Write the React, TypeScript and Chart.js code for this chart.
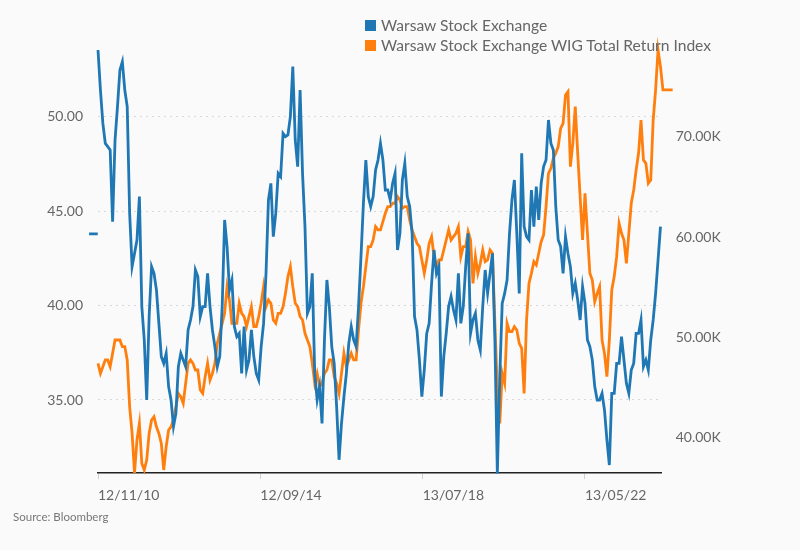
import { useEffect, useRef } from "react";
import { Chart, registerables } from "chart.js";

Chart.register(...registerables);

// one sample every 3 weeks, week 0 = 12/11/10
const STEP_WEEKS = 3;

const tickWeeks = [0, 200, 400, 600];
const tickLabels = ["12/11/10", "12/09/14", "13/07/18", "13/05/22"];

const leftTicks = [35, 40, 45, 50];
const rightTicks = [40000, 50000, 60000, 70000];

// short stray segment drawn before the first week
const blueLeadWeeks = [-11, -0.3];
const blueLeadValues = [43.8, 43.8];

// Warsaw Stock Exchange (PLN)
const blueValues = [
  53.55, 51.43, 49.66, 48.6, 48.43, 48.25, 44.45, 48.78, 50.55, 52.49,
  52.93, 51.43, 50.55, 44.89, 42.07, 42.77, 43.48, 45.78, 39.95, 38.18,
  35.0, 39.42, 42.07, 41.71, 40.83, 39.06, 37.3, 36.94, 37.47, 35.71,
  35.0, 33.59, 34.29, 36.77, 37.47, 37.12, 36.77, 38.71, 39.24, 39.95,
  41.89, 41.54, 39.42, 39.95, 39.95, 41.71, 39.95, 38.71, 37.83, 36.77,
  37.3, 39.95, 44.54, 43.13, 40.83, 41.36, 38.89, 38.36, 38.53, 36.41,
  38.89, 36.59, 37.12, 38.71, 37.3, 36.41, 36.06, 37.83, 39.06, 41.71,
  45.6, 46.48, 43.66, 44.89, 47.01, 46.84,
  49.13, 48.96, 49.05, 50.02, 52.67, 48.78, 47.37, 51.43, 47.01, 44.19,
  39.59, 39.95, 41.71, 36.41, 35.0, 35.71, 33.76, 38.18, 41.36, 39.95,
  37.83, 36.94, 34.65, 31.83, 33.76, 35.18, 36.41, 38.0, 38.89, 38.18,
  37.83, 39.95, 42.6, 45.42, 47.72, 45.78, 45.25, 45.78, 47.19, 47.72,
  48.6, 47.72, 46.13, 46.13, 45.6, 46.48, 47.01, 42.95, 43.83, 46.66,
  47.54, 45.78, 45.25, 43.83, 39.42, 38.71, 37.12, 35.18, 36.59, 38.53,
  39.06, 41.18, 42.95, 41.71, 42.07,
  35.18, 37.3, 38.53, 39.95, 40.48, 39.77, 39.24, 41.71, 39.06, 39.95,
  42.07, 43.83, 38.53, 39.24, 39.59, 38.18, 37.65, 39.95, 41.89, 40.65,
  41.71, 42.77, 38.18, 31.11, 36.24, 40.12, 40.65, 41.36, 43.83, 45.6,
  46.66, 43.83, 40.65, 48.07, 44.19, 43.66, 43.48, 46.13, 44.19, 46.31,
  44.54, 46.48, 47.37, 47.72, 49.84, 48.6, 48.25, 45.25, 43.48, 43.13,
  41.71, 43.66, 42.77, 42.07, 40.65, 41.18, 40.3, 39.24, 41.01, 40.12,
  38.18, 37.83, 37.12, 35.71, 35.0, 35.0,
  35.35, 34.47, 32.88, 31.55, 35.35, 35.35, 36.94, 36.94, 38.36, 37.12,
  35.88, 35.35, 36.59, 36.94, 38.53, 38.53, 39.24, 36.77, 37.12, 36.59,
  38.18, 39.24, 40.65, 42.42, 44.19,
];

// Warsaw Stock Exchange WIG Total Return Index (thousands)
const orangeValues = [
  47.43, 46.43, 47.1, 47.77, 47.77, 47.1, 48.43, 49.76, 49.76, 49.76,
  49.1, 49.1, 47.77, 43.1, 40.44, 36.5, 39.79, 41.44, 37.46, 36.8,
  37.79, 40.44, 41.78, 42.11, 41.11, 40.44, 39.45, 36.8, 39.12, 40.79,
  41.11, 41.78, 43.1, 44.44, 44.11, 43.45, 45.44, 47.43, 47.77, 47.43,
  46.77, 46.77, 44.78, 44.44, 46.1, 47.43, 45.77, 46.43, 47.43, 49.43,
  50.43, 51.42, 52.42, 55.08, 53.75, 51.42, 51.42, 51.42, 53.42, 52.42,
  52.09, 51.09, 52.09, 53.08, 51.09, 51.09, 52.09, 53.42, 55.08, 53.08,
  53.75, 53.42, 51.75, 51.42, 52.42, 52.42,
  53.08, 54.41, 56.08, 57.07, 55.08, 53.42, 53.08, 52.09, 51.75, 50.43,
  49.76, 49.1, 47.43, 45.44, 46.43, 45.11, 45.44, 46.43, 46.77, 47.77,
  47.77, 46.1, 45.44, 44.44, 46.43, 48.43, 47.1, 47.77, 48.43, 47.77,
  47.77, 50.76, 53.42, 55.08, 57.07, 59.07, 59.07, 59.73, 61.06, 60.73,
  60.73, 61.56, 62.39, 63.05, 63.05, 63.39, 63.39, 64.05, 63.72, 62.89,
  63.05, 63.05, 61.72, 60.73, 60.06, 59.4, 59.07, 57.74, 56.41, 57.74,
  59.4, 60.06, 58.07, 57.07, 57.74,
  57.74, 58.73, 59.73, 60.73, 59.73, 60.06, 60.4, 61.06, 58.07, 59.07,
  59.07, 60.56, 59.73, 55.41, 58.07, 56.41, 57.4, 58.73, 57.57, 57.74,
  58.73, 58.4, 51.42, 44.78, 41.45, 46.44, 45.44, 51.42, 50.59, 50.59,
  51.09, 50.76, 49.43, 48.93, 44.44, 51.75, 55.41, 56.41, 57.57, 57.24,
  58.4, 59.56, 60.23, 63.05, 66.38, 66.88, 67.87, 68.37, 69.04, 70.86,
  71.36, 74.19, 74.52, 67.04, 69.37, 73.02, 68.37, 64.05, 59.73, 64.38,
  60.4, 56.41, 55.74, 53.58, 54.41, 55.08,
  49.76, 48.43, 46.1, 49.76, 54.75, 56.08, 58.07, 61.39, 60.4, 59.73,
  57.4, 60.4, 63.39, 64.72, 66.71, 68.37, 71.69, 67.71, 67.37, 65.38,
  65.71, 71.69, 74.69, 78.67, 77.01,
  74.69, 74.69, 74.69, 74.69, 74.69,
];

const BLUE = "#1f77b4";
const ORANGE = "#ff7f0e";
const TEXT = "#666666";

function createChart(canvas: HTMLCanvasElement): Chart {
  const blueData: { x: number; y: number | null }[] = blueLeadWeeks.map((w, i) => ({
    x: w,
    y: blueLeadValues[i],
  }));
  blueData.push({ x: -0.15, y: null });
  blueValues.forEach((v, i) => blueData.push({ x: i * STEP_WEEKS, y: v }));

  const orangeData = orangeValues.map((v, i) => ({ x: i * STEP_WEEKS, y: v * 1000 }));

  return new Chart(canvas, {
    type: "line",
    data: {
      datasets: [
        {
          label: "Warsaw Stock Exchange",
          data: blueData,
          borderColor: BLUE,
          backgroundColor: BLUE,
          borderWidth: 2.8,
          pointRadius: 0,
          yAxisID: "y",
          clip: false,
        },
        {
          label: "Warsaw Stock Exchange WIG Total Return Index",
          data: orangeData,
          borderColor: ORANGE,
          backgroundColor: ORANGE,
          borderWidth: 2.8,
          pointRadius: 0,
          yAxisID: "y1",
          clip: false,
        },
      ],
    },
    options: {
      animation: false,
      responsive: false,
      layout: { padding: { top: 50, left: 0, right: 0, bottom: 0 } },
      plugins: {
        legend: { display: false },
        tooltip: { enabled: false },
      },
      scales: {
        x: {
          type: "linear",
          bounds: "data",
          afterDataLimits: (scale) => {
            scale.min = 0;
            scale.max = 694.5;
          },
          afterBuildTicks: (scale) => {
            scale.ticks = tickWeeks.map((value) => ({ value }));
          },
          afterFit: (scale) => {
            scale.height = 77;
          },
          grid: {
            drawOnChartArea: false,
            drawTicks: true,
            tickLength: 6,
            tickColor: "#d0d0d0",
          },
          border: { display: true, color: "#222222", width: 1.5 },
          ticks: {
            align: "start",
            padding: 8,
            color: TEXT,
            font: { family: "Lato", size: 14 },
            maxRotation: 0,
            callback: (value) => {
              const i = tickWeeks.indexOf(Number(value));
              return i >= 0 ? tickLabels[i] : "";
            },
          },
        },
        y: {
          type: "linear",
          position: "left",
          bounds: "data",
          min: 31.13,
          max: 53.55,
          afterBuildTicks: (scale) => {
            scale.ticks = leftTicks.map((value) => ({ value }));
          },
          afterFit: (scale) => {
            scale.width = 98;
          },
          grid: { color: "#d8d8d8", drawTicks: false },
          border: { display: false, dash: [2, 4] },
          ticks: {
            padding: 15,
            color: TEXT,
            font: { family: "Lato", size: 14 },
            callback: (value) => Number(value).toFixed(2),
          },
        },
        y1: {
          type: "linear",
          position: "right",
          bounds: "data",
          min: 36500,
          max: 78670,
          afterBuildTicks: (scale) => {
            scale.ticks = rightTicks.map((value) => ({ value }));
          },
          afterFit: (scale) => {
            scale.width = 138.3;
          },
          grid: { display: false, drawTicks: false },
          border: { display: false },
          ticks: {
            padding: 14,
            color: TEXT,
            font: { family: "Lato", size: 14 },
            callback: (value) => (Number(value) / 1000).toFixed(2) + "K",
          },
        },
      },
    },
  });
}

function LegendRow({ color, text, top }: { color: string; text: string; top: number }) {
  return (
    <div
      style={{
        position: "absolute",
        left: 365,
        top,
        height: 20,
        display: "flex",
        alignItems: "center",
        whiteSpace: "nowrap",
      }}
    >
      <span style={{ width: 11, height: 11, background: color, marginRight: 5, display: "inline-block" }} />
      <span style={{ fontSize: 15.6, color: TEXT }}>{text}</span>
    </div>
  );
}

export default function App() {
  const canvasRef = useRef<HTMLCanvasElement>(null);

  useEffect(() => {
    const chart = createChart(canvasRef.current!);
    return () => {
      chart.destroy();
    };
  }, []);

  return (
    <div
      style={{
        position: "fixed",
        left: 0,
        top: 0,
        width: 800,
        height: 550,
        background: "#fafafa",
        fontFamily: "Lato, sans-serif",
      }}
    >
      <canvas ref={canvasRef} width={800} height={550} style={{ display: "block" }} />
      <LegendRow color={BLUE} text="Warsaw Stock Exchange" top={15} />
      <LegendRow color={ORANGE} text="Warsaw Stock Exchange WIG Total Return Index" top={35} />
      <div style={{ position: "absolute", left: 13, top: 510, fontSize: 11.5, color: "#777777" }}>
        Source: Bloomberg
      </div>
    </div>
  );
}
